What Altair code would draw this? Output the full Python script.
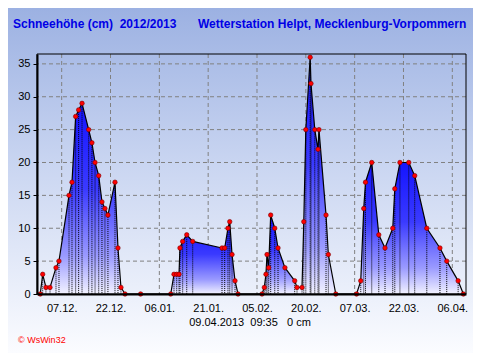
import altair as alt
import pandas as pd

# ---- data ----
times = [
    "2012-11-30T10:00", "2012-12-01T04:00", "2012-12-02T04:00", "2012-12-03T10:00",
    "2012-12-05T06:00", "2012-12-06T04:00", "2012-12-09T06:00", "2012-12-10T04:00",
    "2012-12-11T07:00", "2012-12-12T05:00", "2012-12-13T06:00", "2012-12-15T07:00",
    "2012-12-16T07:00", "2012-12-17T06:00", "2012-12-18T09:00", "2012-12-19T09:00",
    "2012-12-20T07:00", "2012-12-21T05:00", "2012-12-23T09:00", "2012-12-24T07:00",
    "2012-12-25T05:00", "2012-12-26T11:00", "2012-12-31T06:00",
    "2013-01-09T12:00", "2013-01-10T12:00", "2013-01-11T08:00", "2013-01-12T01:00",
    "2013-01-12T08:00", "2013-01-13T04:00", "2013-01-14T10:00", "2013-01-16T06:00",
    "2013-01-25T06:00", "2013-01-26T02:00", "2013-01-27T02:00", "2013-01-27T15:00",
    "2013-01-28T08:00", "2013-01-29T06:00", "2013-01-30T04:00",
    "2013-02-06T13:00", "2013-02-07T06:00", "2013-02-07T18:00", "2013-02-08T02:00",
    "2013-02-08T14:00", "2013-02-09T05:00", "2013-02-10T11:00", "2013-02-11T11:00",
    "2013-02-13T14:00", "2013-02-16T14:00",
    "2013-02-17T07:00", "2013-02-18T20:00", "2013-02-19T09:00", "2013-02-20T00:00",
    "2013-02-21T08:00", "2013-02-21T14:00", "2013-02-22T18:00", "2013-02-23T18:00",
    "2013-02-24T01:00", "2013-02-26T05:00", "2013-02-26T22:00", "2013-03-01T05:00",
    "2013-03-07T14:00", "2013-03-08T21:00", "2013-03-09T19:00", "2013-03-10T08:00",
    "2013-03-12T06:00", "2013-03-14T10:00", "2013-03-16T08:00", "2013-03-18T17:00",
    "2013-03-19T08:00", "2013-03-20T22:00", "2013-03-23T15:00", "2013-03-25T11:00",
    "2013-03-29T04:00", "2013-04-02T05:00", "2013-04-04T07:00", "2013-04-07T19:00",
    "2013-04-09T09:35",
]
depth = [
    0, 3, 1, 1, 4, 5, 15, 17, 27, 28, 29, 25, 23, 20, 18, 14, 13, 12, 17, 7, 1, 0, 0,
    0, 3, 3, 3, 7, 8, 9, 8, 7, 7, 10, 11, 6, 2, 0,
    0, 1, 3, 6, 4, 12, 10, 7, 4, 2,
    1, 1, 11, 25, 36, 32, 25, 22, 25, 12, 6, 0,
    0, 2, 13, 17, 20, 9, 7, 10, 16, 20, 20, 18, 10, 7, 5, 2, 0,
]
segment = (["A"] * 23 + ["B"] * 15 + ["C"] * 10 + ["D"] * 12 + ["E"] * 17)

x_ticks = ["2012-12-07T00:00", "2012-12-22T00:00", "2013-01-06T00:00",
           "2013-01-21T00:00", "2013-02-05T00:00", "2013-02-20T00:00",
           "2013-03-07T00:00", "2013-03-22T00:00", "2013-04-06T00:00"]
y_ticks = [0, 5, 10, 15, 20, 25, 30, 35]
x_range = ["2012-11-29T10:00", "2013-04-10T05:00"]
y_range = [0, 36.5]

title_left = "Schneehöhe (cm)\u00a0\u00a02012/2013"
title_right = "Wetterstation Helpt, Mecklenburg-Vorpommern"
footer = "09.04.2013\u00a0\u00a009:35\u00a0\u00a0\u00a00\u00a0cm"
credit = "© WsWin32"

# ---- helpers ----
def to_dt(s):
    t = pd.Timestamp(s)
    return alt.DateTime(year=t.year, month=t.month, date=t.day,
                        hours=t.hour, minutes=t.minute)

df = pd.DataFrame({"t": times, "v": depth, "seg": segment})
gx = pd.DataFrame({"t": x_ticks})
gy = pd.DataFrame({"v": y_ticks[1:]})
one = pd.DataFrame({"k": [0]})

FONT = "Liberation Sans"
W, H = 429, 240

X = alt.X("t:T",
          scale=alt.Scale(domain=[to_dt(x_range[0]), to_dt(x_range[1])]),
          axis=alt.Axis(values=[to_dt(s) for s in x_ticks], format="%d.%m.",
                        title=None, grid=False, ticks=False, labelPadding=17,
                        labelBaseline="alphabetic", labelFont=FONT, labelFontSize=11,
                        labelColor="black", domainColor="black", domainWidth=2,
                        labelOverlap=False, zindex=1))

def Y(**kw):
    return alt.Y("v:Q", scale=alt.Scale(domain=y_range, nice=False, zero=True),
                 axis=alt.Axis(values=y_ticks, title=None, grid=False, tickSize=4,
                               tickColor="black", labelPadding=3, labelFont=FONT,
                               labelFontSize=11, labelColor="black",
                               domainColor="black", domainWidth=2, zindex=1),
                 **kw)

bg_grad = alt.Gradient(gradient="linear", x1=0, y1=0, x2=0, y2=1,
                       stops=[alt.GradientStop(color="#9cb1e2", offset=0),
                              alt.GradientStop(color="#c9d5f1", offset=0.45),
                              alt.GradientStop(color="#fbfcff", offset=1)])
area_grad = alt.Gradient(gradient="linear", x1=0, y1=0, x2=0, y2=1,
                         stops=[alt.GradientStop(color="#1414ff", offset=0),
                                alt.GradientStop(color="#3a3aff", offset=0.45),
                                alt.GradientStop(color="#9a9aff", offset=0.8),
                                alt.GradientStop(color="#f2f2ff", offset=1)])

bg = alt.Chart(one).mark_rect(color=bg_grad).encode(
    x=alt.value(-29), x2=alt.value(W + 7), y=alt.value(-46), y2=alt.value(H + 59))

grid_x = alt.Chart(gx).mark_rule(color="#808080", strokeDash=[4, 3], strokeWidth=1).encode(x=X)
grid_y = alt.Chart(gy).mark_rule(color="#808080", strokeDash=[4, 3], strokeWidth=1).encode(y=Y())

area = alt.Chart(df).mark_area(color=area_grad, opacity=1).encode(
    x=X, y=Y(stack=None), detail="seg:N")
drops = alt.Chart(df).mark_rule(color="black", strokeDash=[1, 1], strokeWidth=1).encode(
    x=X, y=Y(), y2=alt.datum(0))
line = alt.Chart(df).mark_line(color="black", strokeWidth=1.2).encode(x=X, y=Y())
pts = alt.Chart(df).mark_point(filled=True, fill="#ff0000", stroke="#7a0000",
                               strokeWidth=0.6, size=20, opacity=1).encode(x=X, y=Y())

frame = alt.Chart(one).mark_rect(filled=False, stroke="black", strokeWidth=1).encode(
    x=alt.value(0), x2=alt.value(W), y=alt.value(0), y2=alt.value(H))

def label(txt, x, y, size, color, bold=False, align="left"):
    return alt.Chart(one).mark_text(
        font=FONT, fontSize=size, fontWeight="bold" if bold else "normal",
        color=color, align=align, baseline="alphabetic").encode(
        x=alt.value(x), y=alt.value(y), text=alt.value(txt))

t1 = label(title_left, -24, -26, 12, "#0000e6", bold=True)
t2 = label(title_right, 161, -26, 12, "#0000e6", bold=True)
t3 = label(footer, 213, 272, 11, "black", align="center")
t4 = label(credit, -19, 289, 9, "#ff0000")

chart = alt.layer(bg, grid_x, grid_y, area, drops, line, pts, frame, t1, t2, t3, t4).properties(
    width=W, height=H,
    padding={"left": 29, "top": 46, "right": 7, "bottom": 59},
    autosize=alt.AutoSizeParams(type="none"),
).configure_view(strokeWidth=0).configure(background="white")

chart.save("out.html", embed_options={"renderer": "svg", "actions": False})
